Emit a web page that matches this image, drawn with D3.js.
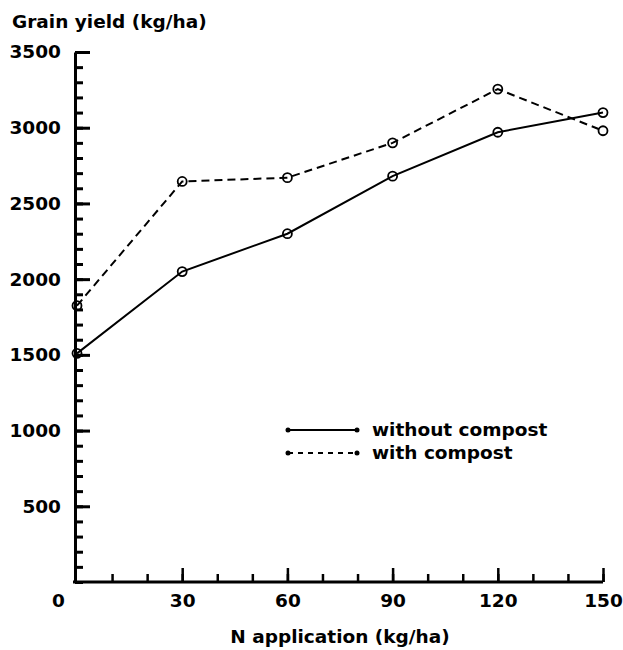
<!DOCTYPE html>
<html lang="en">
<head>
<meta charset="UTF-8">
<title>Grain yield vs N application</title>
<script src="https://cdn.jsdelivr.net/npm/d3@7/dist/d3.min.js"></script>
<style>
    body { margin: 0; background: #fff; }
    svg text {
        font-family: "DejaVu Sans", Arial, Helvetica, sans-serif;
        font-weight: bold;
        fill: #000;
    }
    .axis path, .axis line { stroke: #000; }
</style>
</head>
<body>
<svg id="chart" width="623" height="650"></svg>
<script>
    // data
    const nRates = [0, 30, 60, 90, 120, 150];
    const withoutCompost = [1510, 2050, 2300, 2680, 2970, 3100];
    const withCompost = [1825, 2645, 2670, 2900, 3255, 2980];
    const seriesNames = ["without compost", "with compost"];
    const yTicks = [500, 1000, 1500, 2000, 2500, 3000, 3500];
    const xTicks = [0, 30, 60, 90, 120, 150];

    const fs = 18.5;
    const svg = d3.select("#chart");

    const x = d3.scaleLinear().domain([0, 150]).range([77, 603]);
    const y = d3.scaleLinear().domain([0, 3500]).range([582, 52]);

    // y axis: minor ticks every 100, major every 500, all pointing inward
    svg.append("g")
        .attr("class", "axis")
        .attr("transform", "translate(75,0)")
        .call(d3.axisLeft(y).tickValues(d3.range(0, 3501, 100)).tickSize(-8).tickSizeOuter(0).tickFormat(""))
        .call(g => g.select(".domain").attr("stroke-width", 3))
        .call(g => g.selectAll(".tick line").attr("stroke-width", 3));

    svg.append("g")
        .attr("class", "axis")
        .attr("transform", "translate(75,0)")
        .call(d3.axisLeft(y).tickValues(yTicks).tickSize(-15).tickPadding(14).tickFormat(d3.format("d")))
        .call(g => g.select(".domain").remove())
        .call(g => g.selectAll(".tick line").attr("stroke-width", 3))
        .call(g => g.selectAll("text").attr("font-size", fs));

    // x axis
    svg.append("g")
        .attr("class", "axis")
        .attr("transform", "translate(0,582)")
        .call(d3.axisBottom(x).tickValues(d3.range(10, 151, 10)).tickSize(-8).tickSizeOuter(0).tickFormat(""))
        .call(g => g.select(".domain").attr("stroke-width", 3).attr("d", "M73,0H" + x(150)))
        .call(g => g.selectAll(".tick line").attr("stroke-width", 2.5));

    svg.append("g")
        .attr("class", "axis")
        .attr("transform", "translate(0,582)")
        .call(d3.axisBottom(x).tickValues(xTicks).tickSize(-14).tickPadding(12).tickFormat(d3.format("d")))
        .call(g => g.select(".domain").remove())
        .call(g => g.selectAll(".tick line").attr("stroke-width", 2.5).filter(d => d === 0).remove())
        .call(g => g.selectAll("text").attr("font-size", fs).filter(d => d === 0).attr("dx", -19));

    // axis titles
    svg.append("text")
        .attr("x", 12).attr("y", 28)
        .attr("font-size", fs)
        .text("Grain yield (kg/ha)");

    svg.append("text")
        .attr("x", 340).attr("y", 643)
        .attr("text-anchor", "middle")
        .attr("font-size", fs)
        .text("N application (kg/ha)");

    // series
    const series = [
        { name: seriesNames[0], values: withoutCompost, dash: null },
        { name: seriesNames[1], values: withCompost, dash: "8,5" }
    ];

    const line = d3.line()
        .x((d, i) => x(nRates[i]))
        .y(d => y(d));

    series.forEach(s => {
        svg.append("path")
            .datum(s.values)
            .attr("fill", "none")
            .attr("stroke", "#000")
            .attr("stroke-width", 2)
            .attr("stroke-dasharray", s.dash)
            .attr("d", line);

        svg.selectAll(null)
            .data(s.values)
            .enter()
            .append("circle")
            .attr("cx", (d, i) => x(nRates[i]))
            .attr("cy", d => y(d))
            .attr("r", 4.5)
            .attr("fill", "none")
            .attr("stroke", "#000")
            .attr("stroke-width", 1.8);
    });

    // legend
    const legend = svg.append("g").attr("transform", "translate(288,430)");
    series.forEach((s, i) => {
        const row = legend.append("g").attr("transform", `translate(0,${i * 23})`);
        row.append("line")
            .attr("x1", 0).attr("x2", 69)
            .attr("stroke", "#000")
            .attr("stroke-width", 2)
            .attr("stroke-dasharray", s.dash ? "5,5" : null);
        row.selectAll("circle")
            .data([0, 69])
            .enter()
            .append("circle")
            .attr("cx", d => d)
            .attr("r", 2.5)
            .attr("fill", "#000");
        row.append("text")
            .attr("x", 84)
            .attr("dy", "0.35em")
            .attr("font-size", fs)
            .text(s.name);
    });
</script>
</body>
</html>
